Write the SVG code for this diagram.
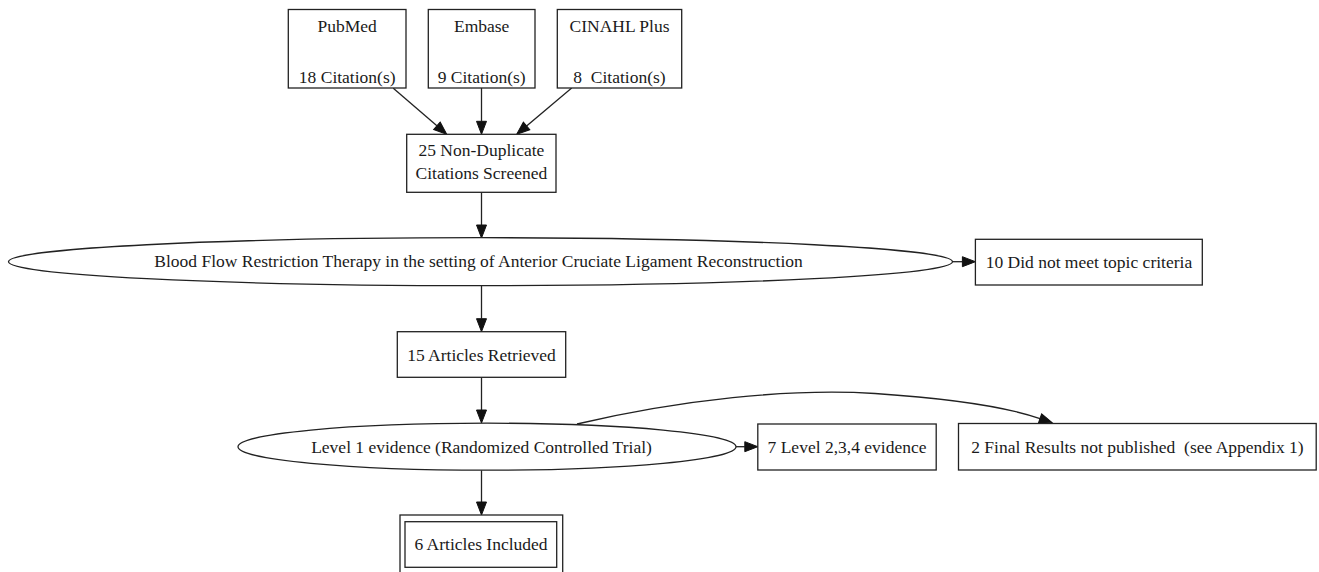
<svg xmlns="http://www.w3.org/2000/svg" width="1319" height="572" viewBox="0 0 1319 572">
<style>
.box{fill:#fff;stroke:#222;stroke-width:1.3}
.t{font-family:"Liberation Serif","Times New Roman",serif;font-size:17.5px;fill:#1a1a1a;text-anchor:middle;white-space:pre}
.e{fill:none;stroke:#222;stroke-width:1.3}
</style>
<defs>
<marker id="ah" markerUnits="userSpaceOnUse" markerWidth="14" markerHeight="12" refX="0" refY="5" orient="auto" viewBox="0 0 14 10" overflow="visible">
<path d="M0,0 L13,5 L0,10 z" fill="#111" stroke="#111" stroke-width="1"/>
</marker>
</defs>
<rect width="1319" height="572" fill="#fff"/>
<g id="connectors">
<path class="e" d="M393.3,88.3 L436.9,125.8" marker-end="url(#ah)"/>
<path class="e" d="M481.5,88 L481.5,121.3" marker-end="url(#ah)"/>
<path class="e" d="M571.7,88 L526.6,125.9" marker-end="url(#ah)"/>
<path class="e" d="M481.5,192.3 L481.5,225" marker-end="url(#ah)"/>
<path class="e" d="M952.6,261.7 L962.4,261.7" marker-end="url(#ah)"/>
<path class="e" d="M481.5,285.5 L481.5,318.7" marker-end="url(#ah)"/>
<path class="e" d="M481.5,377.3 L481.5,410" marker-end="url(#ah)"/>
<path class="e" d="M736,446.7 L744.8,446.7" marker-end="url(#ah)"/>
<path class="e" d="M481.5,470.2 L481.5,502" marker-end="url(#ah)"/>
<path class="e" d="M577,424 C680,400 790,388 875,393.5 C950,398.5 1005,406.5 1040,418.6" marker-end="url(#ah)"/>
</g>
<g id="n_pubmed">
<rect class="box" x="288.3" y="9.5" width="117.7" height="78.5"/>
<text class="t" x="347.2" y="31.7">PubMed</text>
<text class="t" x="347.2" y="83">18 Citation(s)</text>
</g>
<g id="n_embase">
<rect class="box" x="428.3" y="9.5" width="106.7" height="78.5"/>
<text class="t" x="481.7" y="31.7">Embase</text>
<text class="t" x="481.7" y="83">9 Citation(s)</text>
</g>
<g id="n_cinahl">
<rect class="box" x="557.3" y="9.5" width="124.4" height="78.5"/>
<text class="t" x="619.5" y="31.7">CINAHL Plus</text>
<text class="t" x="619.5" y="83" xml:space="preserve">8  Citation(s)</text>
</g>
<g id="n_nondup">
<rect class="box" x="406.7" y="134.3" width="149.3" height="58"/>
<text class="t" x="481.4" y="156">25 Non-Duplicate</text>
<text class="t" x="481.4" y="179.3">Citations Screened</text>
</g>
<g id="n_bfr">
<ellipse class="box" cx="480.5" cy="261.7" rx="472" ry="24"/>
<text class="t" x="478.5" y="267">Blood Flow Restriction Therapy in the setting of Anterior Cruciate Ligament Reconstruction</text>
</g>
<g id="n_notopic">
<rect class="box" x="975.4" y="239.3" width="226.9" height="45.7"/>
<text class="t" x="1088.9" y="268">10 Did not meet topic criteria</text>
</g>
<g id="n_retrieved">
<rect class="box" x="397.3" y="331.7" width="168.4" height="45.6"/>
<text class="t" x="481.5" y="361">15 Articles Retrieved</text>
</g>
<g id="n_level1">
<ellipse class="box" cx="487" cy="446.7" rx="249" ry="23.5"/>
<text class="t" x="481.5" y="452.5">Level 1 evidence (Randomized Controlled Trial)</text>
</g>
<g id="n_level234">
<rect class="box" x="757.8" y="424" width="178.4" height="46"/>
<text class="t" x="847" y="452.5">7 Level 2,3,4 evidence</text>
</g>
<g id="n_final">
<rect class="box" x="958.5" y="423.5" width="357.7" height="46.5"/>
<text class="t" x="1137.4" y="452.5" xml:space="preserve">2 Final Results not published  (see Appendix 1)</text>
</g>
<g id="n_included">
<rect class="box" x="400" y="515" width="162.7" height="60"/>
<rect class="box" x="405" y="521.7" width="151.7" height="45.6"/>
<text class="t" x="481" y="550">6 Articles Included</text>
</g>
</svg>
